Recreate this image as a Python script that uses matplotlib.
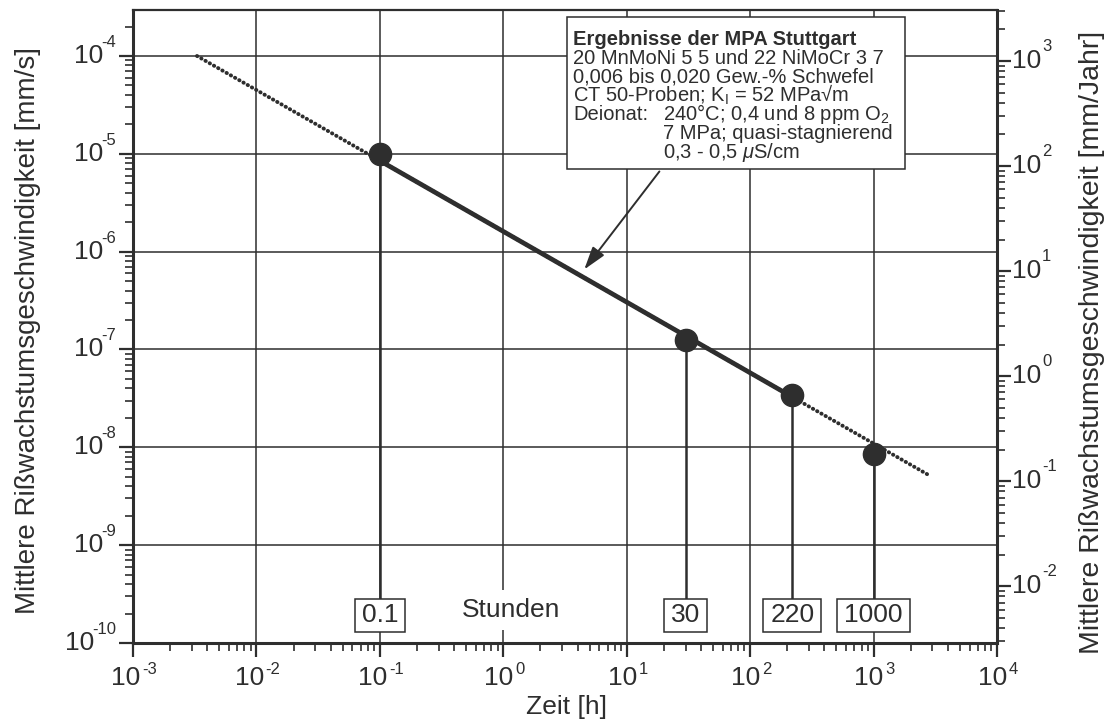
import numpy as np
import matplotlib
matplotlib.use('Agg')
import matplotlib.pyplot as plt
from matplotlib.patches import Rectangle
from matplotlib.ticker import LogLocator, NullFormatter
import matplotlib.transforms as mtrans

plt.rcParams['font.family'] = ['Liberation Sans', 'DejaVu Sans']
plt.rcParams['mathtext.fontset'] = 'custom'
plt.rcParams['mathtext.rm'] = 'Liberation Sans'
plt.rcParams['mathtext.it'] = 'Liberation Sans:italic'
plt.rcParams['mathtext.bf'] = 'Liberation Sans:bold'
plt.rcParams['mathtext.default'] = 'regular'

INK = '#2e2e2e'

# Messpunkte: Versuchsdauer [h] / mittlere Risswachstumsgeschwindigkeit [mm/s]
dauer_h = [0.1, 30, 220, 1000]
rate_mm_s = [1.0e-5, 1.25e-7, 3.4e-8, 8.5e-9]
dauer_labels = ['0.1', '30', '220', '1000']

# Ausgleichsgerade: Endpunkte, durchgezogen nur im Versuchsbereich
fit_t = [3.3e-3, 2800]
fit_v = [1.0e-4, 5.2e-9]
fit_solid_t = [0.1, 220]

# Achsen
x_exp = [-3, -2, -1, 0, 1, 2, 3, 4]
yl_exp = [-10, -9, -8, -7, -6, -5, -4]
yr_exp = [-2, -1, 0, 1, 2, 3]
ylim_left = (1e-10, 10**-3.53)
ylim_right = (10**-2.54, 10**3.486)

info_title = 'Ergebnisse der MPA Stuttgart'
info_lines = ['20 MnMoNi 5 5 und 22 NiMoCr 3 7',
              '0,006 bis 0,020 Gew.-% Schwefel',
              'CT 50-Proben; K$_\\mathrm{I}$ = 52 MPa\u221am',
              'Deionat:']
info_deionat = ['240°C; 0,4 und 8 ppm O$_2$',
                '7 MPa; quasi-stagnierend',
                '0,3 - 0,5 $\\mathit{\\mu}$S/cm']

W, H = 1114, 720
fig = plt.figure(figsize=(W / 100, H / 100), dpi=100)
ax = fig.add_axes([133 / W, 1 - 643 / H, (997 - 133) / W, (643 - 10) / H])
ax.set_xscale('log')
ax.set_yscale('log')
ax.set_xlim(1e-3, 1e4)
ax.set_ylim(*ylim_left)

def px(x, y):
    # Pixelposition -> Figurkoordinaten
    return x / W, 1 - y / H

# Gitter nur an den Dekaden
for e in x_exp[1:-1]:
    ax.axvline(10.0**e, color=INK, lw=1.1, zorder=1)
for e in yl_exp[1:]:
    ax.axhline(10.0**e, color=INK, lw=1.1, zorder=1)

for s in ax.spines.values():
    s.set_color(INK)
    s.set_linewidth(2.2)
ax.spines['top'].set_linewidth(1.6)

ax.xaxis.set_major_locator(LogLocator(base=10, numticks=20))
ax.xaxis.set_minor_locator(LogLocator(base=10, subs=np.arange(2, 10), numticks=20))
ax.yaxis.set_major_locator(LogLocator(base=10, numticks=20))
ax.yaxis.set_minor_locator(LogLocator(base=10, subs=np.arange(2, 10), numticks=20))
ax.xaxis.set_major_formatter(NullFormatter())
ax.xaxis.set_minor_formatter(NullFormatter())
ax.yaxis.set_major_formatter(NullFormatter())
ax.yaxis.set_minor_formatter(NullFormatter())
ax.tick_params(which='major', direction='out', length=10, width=1.6, color=INK)
ax.tick_params(which='minor', direction='out', length=6, width=1.2, color=INK)
ax.tick_params(top=False, right=False)

# rechte Achse [mm/Jahr]
ax2 = ax.twinx()
ax2.set_yscale('log')
ax2.set_ylim(*ylim_right)
ax2.yaxis.set_major_locator(LogLocator(base=10, numticks=20))
ax2.yaxis.set_minor_locator(LogLocator(base=10, subs=np.arange(2, 10), numticks=20))
ax2.yaxis.set_major_formatter(NullFormatter())
ax2.yaxis.set_minor_formatter(NullFormatter())
ax2.tick_params(which='major', direction='out', length=10, width=1.6, color=INK)
ax2.tick_params(which='minor', direction='out', length=6, width=1.2, color=INK)
for s in ax2.spines.values():
    s.set_visible(False)

def exp_px(s, fs):
    # Breite des Exponenten in Pixeln (Helvetica-Metrik)
    return sum(0.333 if c == '-' else 0.556 for c in s) * fs * 100 / 72

FS_TICK, FS_EXP = 19, 12
for e in x_exp:
    es = str(e)
    total = 29 + exp_px(es, FS_EXP)
    left = -total / 2
    ax.annotate('10', xy=(10.0**e, 0), xycoords=('data', 'axes fraction'),
                xytext=(left, -23), textcoords='offset pixels',
                ha='left', va='top', fontsize=FS_TICK, color=INK, annotation_clip=False)
    ax.annotate(es, xy=(10.0**e, 0), xycoords=('data', 'axes fraction'),
                xytext=(left + 31, -19), textcoords='offset pixels',
                ha='left', va='top', fontsize=FS_EXP, color=INK, annotation_clip=False)

for e in yl_exp:
    es = str(e)
    ew = exp_px(es, FS_EXP)
    ax.annotate(es, xy=(0, 10.0**e), xycoords=('axes fraction', 'data'),
                xytext=(-17, 6), textcoords='offset pixels',
                ha='right', va='bottom', fontsize=FS_EXP, color=INK, annotation_clip=False)
    ax.annotate('10', xy=(0, 10.0**e), xycoords=('axes fraction', 'data'),
                xytext=(-17 - ew + 2, 0), textcoords='offset pixels',
                ha='right', va='center', fontsize=FS_TICK, color=INK, annotation_clip=False)

for e in yr_exp:
    ax2.annotate('10', xy=(1, 10.0**e), xycoords=('axes fraction', 'data'),
                 xytext=(15, 0), textcoords='offset pixels',
                 ha='left', va='center', fontsize=FS_TICK, color=INK, annotation_clip=False)
    ax2.annotate(str(e), xy=(1, 10.0**e), xycoords=('axes fraction', 'data'),
                 xytext=(45, 7), textcoords='offset pixels',
                 ha='left', va='bottom', fontsize=FS_EXP, color=INK, annotation_clip=False)

# Ausgleichsgerade
lt, lv = np.log10(fit_t), np.log10(fit_v)
slope = (lv[1] - lv[0]) / (lt[1] - lt[0])
solid_v = 10 ** (lv[0] + slope * (np.log10(fit_solid_t) - lt[0]))
ax.plot(fit_t, fit_v, color=INK, lw=2.8, linestyle=(0, (0.1, 1.15)),
        dash_capstyle='round', zorder=3)
ax.plot(fit_solid_t, solid_v, color=INK, lw=3.4, solid_capstyle='butt', zorder=3)

# Lotlinien zu den Zeitmarken
box_y = 0.044
lo, hi = np.log10(ylim_left)
y_box = 10 ** (lo + box_y * (hi - lo))
for t, v in zip(dauer_h, rate_mm_s):
    ax.plot([t, t], [y_box, v], color=INK, lw=1.8, zorder=2)
ax.plot(dauer_h, rate_mm_s, 'o', ms=16, color=INK, zorder=4)

# Zeitmarken mit Rahmen
blend = mtrans.blended_transform_factory(ax.transData, ax.transAxes)
box_texts = []
for t, lab in zip(dauer_h, dauer_labels):
    box_texts.append(ax.text(t, box_y, lab, transform=blend, ha='center', va='center',
                             fontsize=19, color=INK, zorder=6))
ax.text(1.16, 0.052, 'Stunden', transform=blend, ha='center', va='center',
        fontsize=19, color=INK, zorder=6,
        bbox=dict(boxstyle='square,pad=0.3', fc='white', ec='none'))

# Infokasten
x0, y0 = px(567, 169)
x1, y1 = px(905, 17)
ax.add_patch(Rectangle((x0, y0), x1 - x0, y1 - y0, transform=fig.transFigure,
                       fc='white', ec=INK, lw=1.1, zorder=5, clip_on=False))
fs_info = 14.5
ax.text(*px(573, 45), info_title, transform=fig.transFigure, fontsize=fs_info,
        fontweight='bold', color=INK, va='baseline', zorder=6)
for i, s in enumerate(info_lines):
    ax.text(*px(573, 64 + 18.8 * i), s, transform=fig.transFigure, fontsize=fs_info,
            color=INK, va='baseline', zorder=6)
for i, s in enumerate(info_deionat):
    ax.text(*px(663, 120 + 18.8 * i), s, transform=fig.transFigure, fontsize=fs_info,
            color=INK, va='baseline', zorder=6)

ax.annotate('', xy=(4.53, 6.58e-7), xytext=(18.4, 6.6e-6),
            arrowprops=dict(arrowstyle='-|>,head_length=0.7,head_width=0.22',
                            mutation_scale=20, lw=1.4, color=INK,
                            shrinkA=0, shrinkB=0), zorder=6)

# Achsentitel
fig.text(*px(566, 707), 'Zeit [h]', ha='center', va='center', fontsize=19, color=INK)
fig.text(*px(28, 330), 'Mittlere Rißwachstumsgeschwindigkeit [mm/s]', rotation=90,
         ha='center', va='center', fontsize=20, color=INK)
fig.text(*px(1092, 342), 'Mittlere Rißwachstumsgeschwindigkeit [mm/Jahr]', rotation=90,
         ha='center', va='center', fontsize=20.5, color=INK)

# Rahmen der Zeitmarken nach gemessener Textgröße
fig.canvas.draw()
inv = fig.transFigure.inverted()
for tx in box_texts:
    bb = tx.get_window_extent()
    (a0, b0), (a1, b1) = inv.transform([(bb.x0 - 7, bb.y0 - 5), (bb.x1 + 7, bb.y1 + 4)])
    ax.add_patch(Rectangle((a0, b0), a1 - a0, b1 - b0, transform=fig.transFigure,
                           fc='white', ec=INK, lw=1.1, zorder=5, clip_on=False))

fig.savefig('out.png', dpi=100)
